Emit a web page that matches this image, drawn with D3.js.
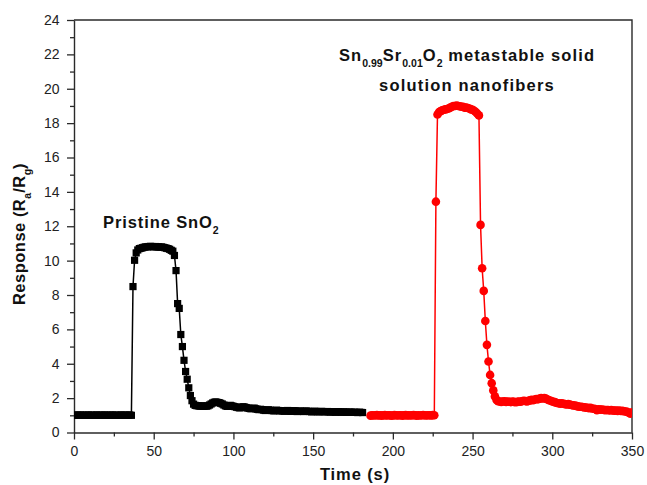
<!DOCTYPE html>
<html>
<head>
<meta charset="utf-8">
<script src="https://cdn.jsdelivr.net/npm/d3@7"></script>
<style>
  html, body { margin: 0; padding: 0; background: #fff; }
  svg { display: block; }
  text { font-family: "Liberation Sans", Arial, Helvetica, sans-serif; }
</style>
</head>
<body>
<svg id="chart" width="647" height="485"></svg>
<script>
// Response of pristine SnO2 nanofibers (sampled every 1 s from t = 0 s)
const pristineStart = 0;
const pristineValues = [
  1.02,1.0,1.01,1.0,1.02,1.01,1.0,1.0,1.01,1.02,
  1.0,1.01,1.0,1.0,1.02,1.01,1.0,1.01,1.0,1.02,
  1.01,1.0,1.0,1.01,1.02,1.0,1.01,1.0,1.0,1.01,
  1.02,1.0,1.01,1.0,1.01,1.02,1.0,
  8.49,10.02,10.45,
  10.62,10.7,10.72,10.75,10.78,10.8,10.8,10.82,10.83,10.82,
  10.8,10.82,10.8,10.8,10.78,10.8,10.77,10.75,10.72,10.7,
  10.66,10.6,10.55,10.3,
  9.42,7.5,7.22,5.7,5.0,4.2,3.55,3.1,2.6,2.15,1.85,1.65,1.58,
  1.56,1.55,1.53,1.55,1.52,1.54,1.53,1.55,1.6,1.66,
  1.72,1.76,1.78,1.75,1.74,1.7,1.66,1.6,1.55,1.52,
  1.55,1.58,1.55,1.52,1.5,1.47,1.45,1.43,1.46,1.5,
  1.48,1.45,1.42,1.4,1.38,1.4,1.42,1.38,1.35,1.33,
  1.35,1.33,1.3,1.28,1.3,1.32,1.3,1.28,1.26,1.27,
  1.3,1.28,1.26,1.27,1.25,1.24,1.26,1.28,1.25,1.23,
  1.25,1.27,1.25,1.22,1.24,1.25,1.23,1.22,1.24,1.25,
  1.23,1.22,1.2,1.22,1.24,1.22,1.2,1.21,1.23,1.22,
  1.2,1.21,1.22,1.2,1.19,1.21,1.2,1.18,1.2,1.21,
  1.19,1.18,1.2,1.19,1.18,1.17,1.19,1.18,1.17,1.18,
  1.17,1.16,1.18,1.17,1.16
];

// Response of Sn0.99Sr0.01O2 nanofibers (sampled every 1 s from t = 186 s)
const dopedStart = 186;
const dopedValues = [
  0.98,1.0,0.99,1.0,1.01,0.99,1.0,0.98,1.0,1.01,
  0.99,1.0,1.0,0.98,0.99,1.01,1.0,0.99,1.0,1.0,
  0.98,1.0,1.01,0.99,1.0,0.99,1.0,1.01,1.0,0.98,
  1.0,0.99,1.0,1.01,1.0,0.99,1.0,1.0,0.99,1.01,1.0,
  13.43,
  18.5,18.65,18.7,18.75,18.78,18.8,18.82,18.85,18.9,18.95,
  19.0,19.0,19.02,19.0,18.98,18.95,18.95,18.9,18.9,18.88,
  18.85,18.8,18.78,18.72,18.65,18.55,18.45,
  12.08,9.56,8.24,6.49,5.1,4.13,3.35,2.87,2.45,2.1,1.9,1.82,
  1.8,1.78,1.8,1.82,1.78,1.8,1.79,1.77,1.8,1.78,
  1.76,1.78,1.8,1.79,1.82,1.85,1.83,1.8,1.84,1.87,
  1.9,1.88,1.92,1.95,1.93,1.97,2.0,1.98,2.0,1.97,
  1.92,1.88,1.85,1.8,1.78,1.75,1.72,1.7,1.68,1.7,
  1.67,1.65,1.63,1.65,1.62,1.6,1.58,1.57,1.55,1.52,
  1.5,1.5,1.48,1.46,1.45,1.44,1.42,1.43,1.4,1.38,
  1.37,1.3,1.35,1.33,1.34,1.32,1.3,1.31,1.3,1.29,
  1.3,1.28,1.27,1.28,1.26,1.27,1.25,1.26,1.24,1.22,
  1.2,1.15,1.1,1.18
];

// Axis ticks
const xMajorTicks = [0, 50, 100, 150, 200, 250, 300, 350];
const xMinorTicks = [25, 75, 125, 175, 225, 275, 325];
const yMajorTicks = [0, 2, 4, 6, 8, 10, 12, 14, 16, 18, 20, 22, 24];
const yMinorTicks = [1, 3, 5, 7, 9, 11, 13, 15, 17, 19, 21, 23];

const pristine = pristineValues.map((v, i) => ({ t: pristineStart + i, v }));
const doped = dopedValues.map((v, i) => ({ t: dopedStart + i, v }));

const svg = d3.select("#chart");
const plotLeft = 74, plotRight = 632, plotTop = 20, plotBottom = 432.5;

const x = d3.scaleLinear().domain([0, 350]).range([plotLeft, plotRight]);
const y = d3.scaleLinear().domain([0, 24]).range([plotBottom, plotTop]);

const axisColor = "#2a2a2a";
const labelColor = "#222";

// clip region for the data
svg.append("defs").append("clipPath").attr("id", "plot-clip")
  .append("rect").attr("x", plotLeft).attr("y", plotTop)
  .attr("width", plotRight - plotLeft).attr("height", plotBottom - plotTop);

// frame: top and right edges
svg.append("path")
  .attr("d", `M${plotLeft},${plotTop}H${plotRight}V${plotBottom}`)
  .attr("fill", "none").attr("stroke", axisColor).attr("stroke-width", 1.4);

function styleAxis(g) {
  g.select(".domain").attr("stroke", axisColor).attr("stroke-width", 1.4);
  g.selectAll(".tick line").attr("stroke", axisColor).attr("stroke-width", 1.3);
  g.selectAll(".tick text").attr("fill", labelColor)
    .style("font-size", "14px");
}

// x axis
const gx = svg.append("g").attr("transform", `translate(0,${plotBottom})`)
  .call(d3.axisBottom(x).tickValues(xMajorTicks).tickSize(7).tickSizeOuter(0)
    .tickPadding(7).tickFormat(d3.format("d")));
styleAxis(gx);
const gxm = svg.append("g").attr("transform", `translate(0,${plotBottom})`)
  .call(d3.axisBottom(x).tickValues(xMinorTicks).tickSize(4).tickSizeOuter(0)
    .tickFormat(""));
styleAxis(gxm);
gxm.select(".domain").remove();

// y axis
const gy = svg.append("g").attr("transform", `translate(${plotLeft},0)`)
  .call(d3.axisLeft(y).tickValues(yMajorTicks).tickSize(7).tickSizeOuter(0)
    .tickPadding(7.5).tickFormat(d3.format("d")));
styleAxis(gy);
const gym = svg.append("g").attr("transform", `translate(${plotLeft},0)`)
  .call(d3.axisLeft(y).tickValues(yMinorTicks).tickSize(4).tickSizeOuter(0)
    .tickFormat(""));
styleAxis(gym);
gym.select(".domain").remove();

// series
const plot = svg.append("g").attr("clip-path", "url(#plot-clip)");
const line = d3.line().x(d => x(d.t)).y(d => y(d.v));

plot.append("path").datum(pristine).attr("d", line)
  .attr("fill", "none").attr("stroke", "#000").attr("stroke-width", 1.5);
plot.append("g").selectAll("rect").data(pristine).join("rect")
  .attr("x", d => x(d.t) - 3.6).attr("y", d => y(d.v) - 3.6)
  .attr("width", 7.2).attr("height", 7.2).attr("fill", "#000");

plot.append("path").datum(doped).attr("d", line)
  .attr("fill", "none").attr("stroke", "#ff0000").attr("stroke-width", 1.5);
plot.append("g").selectAll("circle").data(doped).join("circle")
  .attr("cx", d => x(d.t)).attr("cy", d => y(d.v)).attr("r", 4.3)
  .attr("fill", "#ff0000");

// annotations
const boldStyle = t => t.attr("font-weight", "bold").attr("fill", "#111")
  .style("font-size", "16.5px").style("letter-spacing", "0.9px");

function addRuns(textSel, runs) {
  let shift = 0;
  runs.forEach(r => {
    const ts = textSel.append("tspan").text(r.s);
    const target = r.sub ? 6 : 0;
    if (target !== shift) { ts.attr("dy", target - shift); shift = target; }
    if (r.sub) ts.style("font-size", "10.5px").style("letter-spacing", "0px");
  });
}

const t1 = svg.append("text").attr("x", 103).attr("y", 228.3).call(boldStyle);
addRuns(t1, [{ s: "Pristine SnO" }, { s: "2", sub: true }]);

const t2 = svg.append("text").attr("x", 467).attr("y", 60.5)
  .attr("text-anchor", "middle").call(boldStyle)
  .style("letter-spacing", "1.1px");
addRuns(t2, [
  { s: "Sn" }, { s: "0.99", sub: true }, { s: "Sr" }, { s: "0.01", sub: true },
  { s: "O" }, { s: "2", sub: true }, { s: " metastable solid" }
]);

svg.append("text").attr("x", 467).attr("y", 91)
  .attr("text-anchor", "middle").call(boldStyle)
  .style("letter-spacing", "1.2px")
  .text("solution nanofibers");

// axis titles
svg.append("text").attr("x", 355).attr("y", 480)
  .attr("text-anchor", "middle").call(boldStyle).text("Time (s)");

const yt = svg.append("text")
  .attr("transform", "translate(24.5,234) rotate(-90)")
  .attr("text-anchor", "middle").call(boldStyle)
  .style("letter-spacing", "0.5px");
addRuns(yt, [
  { s: "Response (R" }, { s: "a", sub: true }, { s: "/R" }, { s: "g", sub: true }, { s: ")" }
]);
</script>
</body>
</html>
